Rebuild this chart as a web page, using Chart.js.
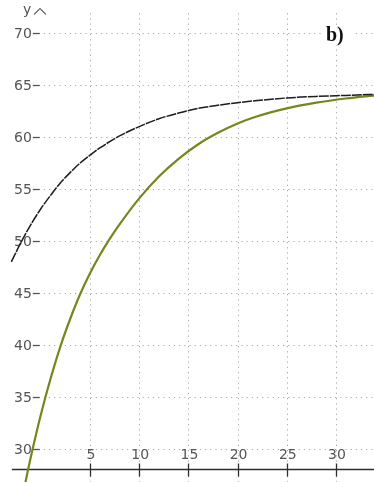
<!DOCTYPE html>
<html>
<head>
<meta charset="utf-8">
<script src="https://cdn.jsdelivr.net/npm/chart.js@4/dist/chart.umd.min.js"></script>
<style>
  html, body { margin: 0; padding: 0; background: #fff; }
  #wrap { width: 374px; height: 482px; position: relative; }
</style>
</head>
<body>
<div id="wrap"><canvas id="c"></canvas></div>
<script>
// Upper curve (dark line)
const xUpper = [-3.0, -2, -1, 0, 1, 2, 3, 4, 5, 6, 8, 10, 12, 14, 16, 18, 20, 22, 25, 28, 31, 34];
const yUpper = [48.0, 49.9, 51.6, 53.1, 54.4, 55.6, 56.6, 57.5, 58.25, 58.95, 60.1, 61.0, 61.75, 62.3, 62.75, 63.05, 63.3, 63.5, 63.75, 63.9, 64.0, 64.1];

// Lower curve (olive line)
const xLower = [-1.7, -1, 0, 1, 2, 3, 4, 5, 6, 7, 8, 10, 12, 14, 16, 18, 20, 22, 25, 28, 31, 34];
const yLower = [26.2, 29.3, 33.3, 36.8, 39.9, 42.55, 44.9, 46.9, 48.65, 50.2, 51.6, 54.1, 56.2, 57.9, 59.3, 60.4, 61.3, 62.0, 62.75, 63.3, 63.7, 64.0];

const xTicks = [5, 10, 15, 20, 25, 30];
const yTicks = [30, 35, 40, 45, 50, 55, 60, 65, 70];
const axisLevel = 28.1;      // height of the horizontal axis line
const axisName = 'y';
const panelLabel = 'b)';

function seg(ctx, x1, y1, x2, y2) {
  ctx.beginPath(); ctx.moveTo(x1, y1); ctx.lineTo(x2, y2); ctx.stroke();
}

// Dotted grid, axis line, ticks and labels drawn from the chart's scales
const axesPlugin = {
  id: 'axesDecor',
  beforeDatasetsDraw(chart) {
    const { ctx, chartArea } = chart;
    const x = chart.scales.x, y = chart.scales.y;
    const x0 = x.getPixelForValue(0);
    const ay = Math.round(y.getPixelForValue(axisLevel)) + 0.5;
    const topPx = y.getPixelForValue(71.9);
    ctx.save();

    // dotted grid
    ctx.strokeStyle = '#a8a8a8';
    ctx.lineWidth = 1;
    ctx.setLineDash([1.2, 4]);
    yTicks.forEach(v => {
      const py = Math.round(y.getPixelForValue(v)) + 0.5;
      seg(ctx, x0 + 3, py, chartArea.right, py);
    });
    xTicks.forEach(v => {
      const px = Math.round(x.getPixelForValue(v)) + 0.5;
      seg(ctx, px, topPx, px, chartArea.bottom);
    });
    ctx.setLineDash([]);

    // horizontal axis
    ctx.strokeStyle = '#2e2e2e';
    ctx.lineWidth = 1.5;
    seg(ctx, x.getPixelForValue(-2.95), ay, chartArea.right, ay);
    ctx.lineWidth = 1.3;
    xTicks.forEach(v => {
      const px = Math.round(x.getPixelForValue(v)) + 0.5;
      seg(ctx, px, ay - 6, px, ay + 7);
    });

    // y tick dashes
    ctx.strokeStyle = '#555';
    ctx.lineWidth = 1.3;
    yTicks.forEach(v => {
      const py = Math.round(y.getPixelForValue(v)) + 0.5;
      seg(ctx, x0 - 8, py, x0 - 1, py);
    });

    // tick labels
    ctx.fillStyle = '#555';
    ctx.font = '14px "DejaVu Sans"';
    ctx.textAlign = 'right';
    ctx.textBaseline = 'middle';
    yTicks.forEach(v => {
      ctx.fillText(String(v), x0 - 9, y.getPixelForValue(v) + 1);
    });
    ctx.textAlign = 'center';
    ctx.textBaseline = 'alphabetic';
    xTicks.forEach(v => {
      ctx.fillText(String(v), x.getPixelForValue(v) + 1, ay - 11);
    });

    // axis name with arrow head
    ctx.textAlign = 'left';
    ctx.fillText(axisName, 23, 14);
    ctx.strokeStyle = '#666';
    ctx.lineWidth = 1.1;
    ctx.beginPath();
    ctx.moveTo(34, 14.5); ctx.lineTo(40, 8.5); ctx.lineTo(46, 14.5);
    ctx.stroke();

    // panel label
    ctx.fillStyle = '#fff';
    ctx.fillRect(322, 25, 30, 20);
    ctx.fillStyle = '#111';
    ctx.font = 'bold 20px "Liberation Serif"';
    ctx.fillText(panelLabel, 326, 41);

    ctx.restore();
  }
};

new Chart(document.getElementById('c'), {
  type: 'line',
  data: {
    datasets: [
      {
        label: 'upper',
        data: xUpper.map((v, i) => ({ x: v, y: yUpper[i] })),
        borderColor: '#1c1c1c',
        borderWidth: 1.5,
        borderDash: [10, 1],
      },
      {
        label: 'lower',
        data: xLower.map((v, i) => ({ x: v, y: yLower[i] })),
        borderColor: '#72881e',
        borderWidth: 2.2,
      }
    ]
  },
  options: {
    responsive: true,
    maintainAspectRatio: false,
    animation: false,
    layout: { padding: 0 },
    elements: {
      point: { radius: 0 },
      line: { tension: 0.4, cubicInterpolationMode: 'monotone', fill: false }
    },
    plugins: { legend: { display: false }, tooltip: { enabled: false } },
    scales: {
      x: { type: 'linear', min: -4.15, max: 33.86, display: false },
      y: { type: 'linear', min: 26.83, max: 73.17, display: false }
    }
  },
  plugins: [axesPlugin]
});
</script>
</body>
</html>
